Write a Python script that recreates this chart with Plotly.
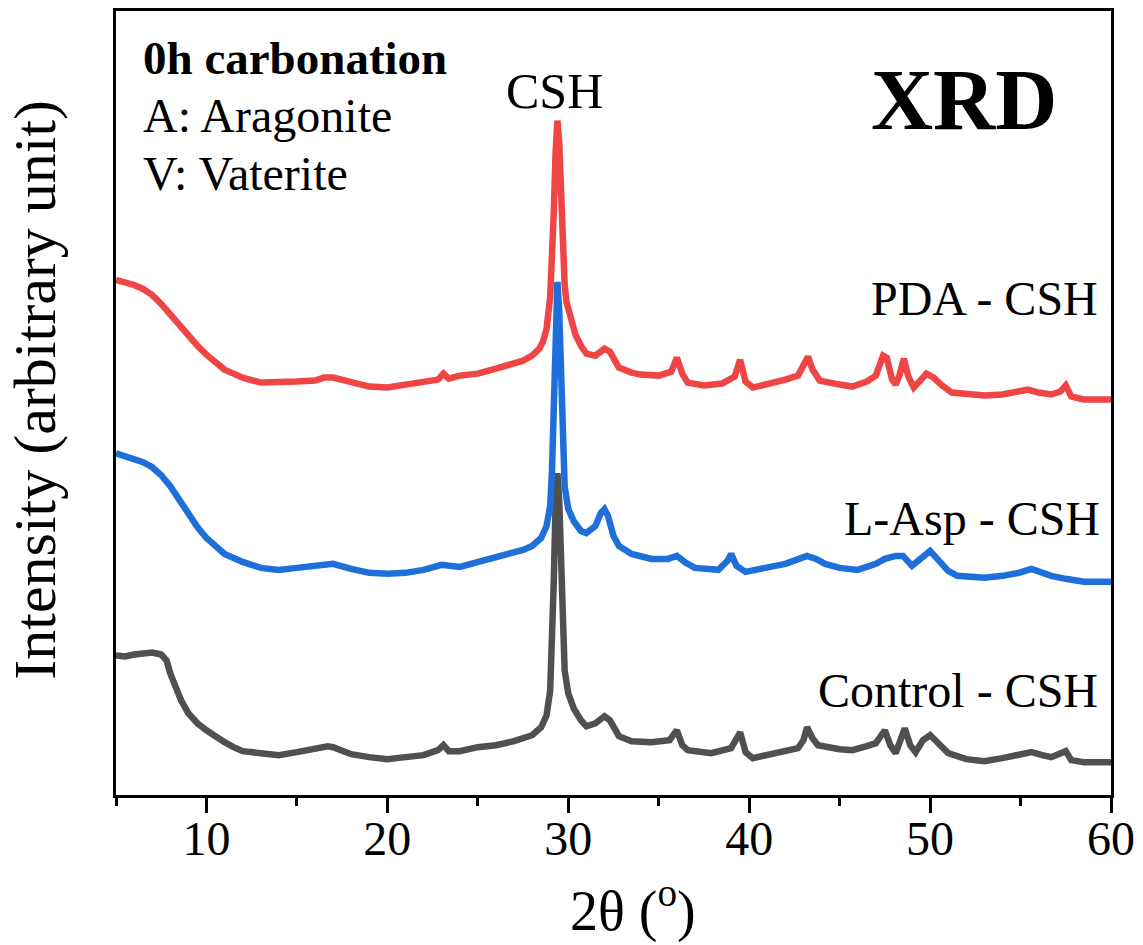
import plotly.graph_objects as go

# 2-theta positions (degrees) and intensities (arbitrary units) for each sample
ctrl_x = [5.0, 5.5, 6.0, 6.5, 7.0, 7.5, 7.8, 8.0, 8.3, 8.6, 9.0, 9.5, 10.0, 10.5, 11.0, 11.5, 12.0,
          13.0, 14.0, 15.0, 16.0, 16.7, 17.0, 18.0, 19.0, 20.0, 21.0, 22.0, 22.8, 23.1, 23.4, 24.0,
          25.0, 26.0, 27.0, 27.5, 28.0, 28.5, 28.8, 29.0, 29.1, 29.2, 29.3, 29.4, 29.5, 29.6, 29.7,
          29.8, 30.0, 30.3, 30.7, 31.0, 31.5, 32.0, 32.3, 32.8, 33.5, 34.6, 35.6, 36.0, 36.3, 36.6,
          37.9, 39.0, 39.5, 39.8, 40.2, 41.5, 42.7, 43.0, 43.2, 43.5, 43.8, 45.0, 45.7, 46.5, 47.0,
          47.5, 47.8, 48.1, 48.3, 48.6, 48.9, 49.2, 49.6, 50.0, 50.4, 51.0, 52.0, 53.0, 54.0, 54.9,
          55.6, 56.2, 56.7, 57.5, 57.8, 58.5, 60.0]
ctrl_y = [140, 139, 141, 142, 143, 141, 135, 122, 107, 95, 82, 72, 65, 58, 53, 48, 44,
          42, 40, 43, 46, 49, 48, 41, 38, 36, 38, 40, 45, 50, 44, 44,
          48, 50, 54, 57, 60, 68, 80, 105, 145, 215, 295, 323, 295, 215, 155,
          125, 102, 87, 75, 69, 72, 79, 75, 59, 54, 53, 55, 65, 50, 45,
          42, 47, 63, 43, 37, 42, 47, 55, 68, 57, 50, 46, 45, 49, 52,
          65, 50, 42, 53, 67, 50, 43, 55, 60, 53, 42, 36, 34, 37, 40,
          43, 40, 38, 44, 35, 33, 33]

lasp_x = [5.0, 5.5, 6.0, 6.5, 7.0, 7.5, 8.0, 8.5, 9.0, 9.5, 10.0, 10.5, 11.0, 11.5, 12.0, 13.0,
          14.0, 15.0, 16.0, 17.0, 18.0, 19.0, 20.0, 21.0, 22.0, 23.0, 24.0, 25.0, 26.0, 27.0, 27.5,
          28.0, 28.5, 28.8, 29.0, 29.1, 29.2, 29.3, 29.4, 29.5, 29.6, 29.7, 29.8, 30.0, 30.3, 30.7,
          31.0, 31.5, 31.8, 32.0, 32.2, 32.5, 32.8, 33.5, 34.6, 35.5, 36.0, 36.5, 37.0, 38.3, 38.8,
          39.0, 39.3, 39.8, 41.1, 42.0, 42.6, 43.2, 43.7, 44.2, 45.0, 46.0, 47.0, 47.5, 48.1, 48.5,
          49.0, 49.6, 50.0, 50.4, 51.0, 51.5, 53.0, 54.0, 54.9, 55.6, 56.2, 56.7, 57.5, 58.5, 60.0]
lasp_y = [153, 150, 147, 144, 139, 131, 120, 106, 92, 79, 68, 59, 52, 48, 44, 38,
          36, 38, 40, 42, 37, 33, 32, 33, 36, 41, 39, 44, 48, 53, 56,
          60, 68, 80, 100, 135, 205, 285, 325, 295, 215, 155, 120, 97, 85, 75,
          73, 80, 93, 97, 90, 70, 60, 52, 47, 47, 50, 43, 38, 36, 45,
          52, 40, 34, 39, 42, 46, 50, 47, 42, 38, 36, 42, 47, 50, 50,
          40, 49, 55, 47, 35, 30, 28, 30, 33, 37, 33, 30, 27, 24, 24]

pda_x = [5.0, 5.5, 6.0, 6.5, 7.0, 7.5, 8.0, 8.5, 9.0, 9.5, 10.0, 10.5, 11.0, 11.5, 12.0, 13.0,
         14.0, 15.0, 16.0, 16.5, 17.0, 17.5, 18.0, 19.0, 20.0, 21.0, 22.0, 22.8, 23.1, 23.4, 24.0,
         25.0, 26.0, 27.0, 27.5, 28.0, 28.4, 28.6, 28.8, 29.0, 29.1, 29.2, 29.3, 29.4, 29.5, 29.6,
         29.7, 29.8, 29.9, 30.1, 30.4, 30.7, 31.0, 31.5, 32.0, 32.3, 32.8, 33.5, 34.0, 35.0, 35.7,
         36.0, 36.3, 36.6, 37.5, 38.5, 39.2, 39.5, 39.8, 40.2, 41.0, 42.0, 42.7, 43.0, 43.25, 43.5,
         43.9, 45.0, 45.7, 46.5, 47.0, 47.4, 47.6, 47.9, 48.1, 48.3, 48.55, 48.8, 49.1, 49.5, 49.8,
         50.2, 50.6, 51.2, 52.0, 53.0, 54.0, 55.0, 55.4, 56.0, 56.7, 57.2, 57.5, 57.8, 58.5, 59.3,
         60.0]
pda_y = [147, 145, 142, 138, 132, 123, 112, 101, 90, 81, 72, 64, 57, 53, 49, 44,
         44, 45, 46, 49, 49, 47, 45, 40, 39, 42, 44, 47, 53, 48, 51,
         53, 58, 63, 66, 71, 78, 85, 98, 130, 160, 215, 275, 307, 285, 220,
         175, 142, 125, 109, 92, 81, 73, 71, 78, 75, 59, 54, 52, 51, 55,
         69, 53, 44, 41, 43, 50, 67, 45, 39, 42, 47, 51, 60, 70, 57,
         46, 42, 40, 45, 51, 71, 69, 47, 42, 51, 68, 50, 39, 47, 53,
         49, 42, 34, 32, 31, 32, 35, 37, 34, 32, 35, 41, 30, 27, 27,
         27]

# vertical stacking offsets for the three patterns
offsets = {"Control - CSH": 0, "L-Asp - CSH": 190, "PDA - CSH": 370}

series = [
    ("Control - CSH", ctrl_x, ctrl_y, "#505050"),
    ("L-Asp - CSH", lasp_x, lasp_y, "#1F6FDB"),
    ("PDA - CSH", pda_x, pda_y, "#EF4545"),
]

FONT = "Liberation Serif, Times New Roman, serif"

fig = go.Figure()
for name, xs, ys, color in series:
    off = offsets[name]
    fig.add_trace(go.Scatter(
        x=xs, y=[v + off for v in ys], mode="lines", name=name,
        line=dict(color=color, width=6.5), showlegend=False,
    ))

fig.update_layout(
    width=1143, height=945,
    margin=dict(l=116, r=30, t=8, b=150),
    paper_bgcolor="white", plot_bgcolor="white",
    font=dict(family=FONT, color="black"),
)

fig.update_xaxes(
    range=[5, 60], tick0=0, dtick=10,
    showline=True, linecolor="black", linewidth=3, mirror=True,
    ticks="outside", ticklen=15, tickwidth=3, tickcolor="black",
    minor=dict(dtick=5, tick0=0, ticks="outside", ticklen=8, tickwidth=3, tickcolor="black"),
    showgrid=False, zeroline=False,
    tickfont=dict(family=FONT, size=48, color="black"),
    ticklabelstandoff=-16,
)
fig.update_yaxes(
    range=[0, 787], showline=True, linecolor="black", linewidth=3, mirror=True,
    ticks="", showticklabels=False, showgrid=False, zeroline=False,
)

def px_x(p):
    return (p - 116) / 997

def px_y(p):
    return (795 - p) / 787

annotations = [
    dict(text="2θ (<sup>o</sup>)", x=px_x(634), y=px_y(907), font=dict(size=56)),
    dict(text="Intensity (arbitrary unit)", x=px_x(34), y=px_y(388), textangle=-90,
         font=dict(size=60)),
    dict(text="<b>0h carbonation</b>", x=px_x(141), y=px_y(55), xanchor="left", font=dict(size=47)),
    dict(text="A: Aragonite", x=px_x(141), y=px_y(113), xanchor="left", font=dict(size=48)),
    dict(text="V: Vaterite", x=px_x(141), y=px_y(171), xanchor="left", font=dict(size=48)),
    dict(text="<b>XRD</b>", x=px_x(966), y=px_y(97), font=dict(size=86)),
    dict(text="CSH", x=px_x(555), y=px_y(88), font=dict(size=50)),
    dict(text="PDA - CSH", x=px_x(1102), y=px_y(297), xanchor="right", font=dict(size=48)),
    dict(text="L-Asp - CSH", x=px_x(1104), y=px_y(517), xanchor="right", font=dict(size=48)),
    dict(text="Control - CSH", x=px_x(1102), y=px_y(690), xanchor="right", font=dict(size=48)),
]
for a in annotations:
    a.setdefault("xanchor", "center")
    a.update(xref="paper", yref="paper", yanchor="middle", showarrow=False)
    a["font"] = dict(family=FONT, color="black", **a["font"])
    fig.add_annotation(**a)

fig.write_html("out.html")
